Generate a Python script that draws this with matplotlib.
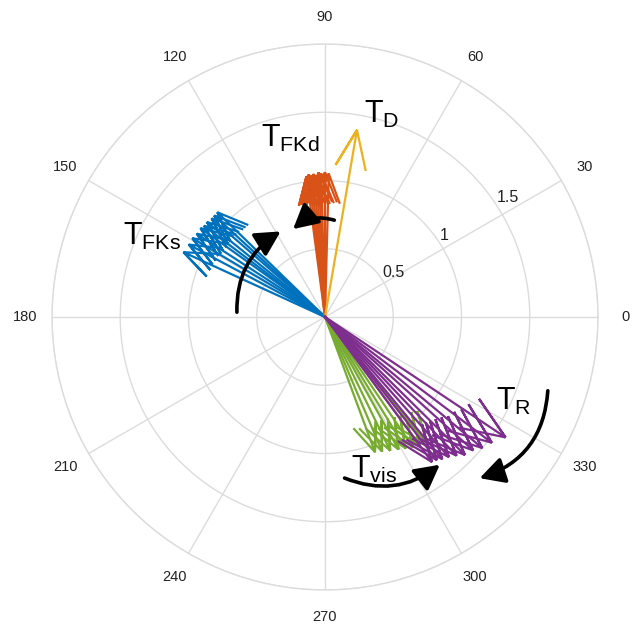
import numpy as np
import matplotlib
matplotlib.use("Agg")
import matplotlib.pyplot as plt
from matplotlib.patches import FancyArrowPatch

plt.rcParams['font.family'] = ['Liberation Sans', 'DejaVu Sans']

# ---- data: vector angles (deg) and magnitudes ----
fks_ang = [135.8, 137.5, 139.0, 141.2, 143.0, 144.5, 147.0, 149.3, 152.0, 155.4]
fks_mag = [1.10, 1.10, 1.10, 1.11, 1.11, 1.12, 1.12, 1.13, 1.13, 1.14]
fkd_ang = [88.5, 90.0, 91.5, 92.5, 93.5, 94.5, 95.5, 96.5, 97.5]
fkd_mag = [1.05, 1.06, 1.05, 1.06, 1.04, 1.05, 1.04, 1.05, 1.04]
d_ang = [80.3]
d_mag = [1.39]
r_ang = [-33.7, -37.0, -39.8, -42.0, -44.6, -46.5, -48.5, -50.5, -52.0, -53.6]
r_mag = [1.59, 1.53, 1.50, 1.46, 1.44, 1.40, 1.37, 1.35, 1.33, 1.32]
vis_ang = [-69.7, -67.0, -64.0, -61.0, -58.5, -56.0, -53.5, -51.2]
vis_mag = [1.055, 1.07, 1.09, 1.11, 1.13, 1.15, 1.17, 1.20]

series = [
    (fks_ang, fks_mag, '#0072BD'),
    (fkd_ang, fkd_mag, '#D95319'),
    (d_ang, d_mag, '#EDB120'),
    (vis_ang, vis_mag, '#77AC30'),
    (r_ang, r_mag, '#7E2F8E'),
]

theta_ticks = list(range(0, 360, 30))
theta_labels = [str(t) for t in theta_ticks]
r_ticks = [0.5, 1.0, 1.5, 2.0]
r_labels = ['0.5', '1', '1.5', '']

W, H = 636, 626
fig = plt.figure(figsize=(W / 100, H / 100), dpi=100)
cx, cy, R = 325, 317, 273
pos = [(cx - R) / W, (H - cy - R) / H, 2 * R / W, 2 * R / H]
ax = fig.add_axes(pos, projection='polar')
grid_c = '#dcdcdc'

# compass-style arrows
arrow_shape = np.array([0, 1, 0.8 + 0.08j, 1, 0.8 - 0.08j])
for angs, mags, col in series:
    for a, m in zip(angs, mags):
        z = arrow_shape * m * np.exp(1j * np.deg2rad(a))
        th = np.angle(z)
        th[0] = np.deg2rad(a)
        ax.plot(th, np.abs(z), color=col, lw=1.6, solid_joinstyle='miter', zorder=3)

ax.set_ylim(0, 2)
ax.set_xticks(np.deg2rad(theta_ticks))
ax.set_xticklabels(theta_labels, fontsize=10.5, color='#222222')
ax.set_yticks(r_ticks)
ax.set_yticklabels(r_labels, fontsize=11.5, color='#222222')
ax.set_rlabel_position(33)
ax.tick_params(axis='x', pad=9)
ax.grid(True, color=grid_c, lw=1.0)
ax.spines['polar'].set_color(grid_c)
ax.spines['polar'].set_linewidth(1.0)

# overlay Cartesian axes for annotations
ov = fig.add_axes(pos, frameon=False)
ov.set_xlim(-2, 2)
ov.set_ylim(-2, 2)
ov.axis('off')

def px(x, y):
    return ((x - cx) / (R / 2), (cy - y) / (R / 2))

arrows = [
    ((237, 315), (283, 230), -0.3),
    ((337, 221), (291, 231), 0.3),
    ((342, 477), (442, 463), 0.3),
    ((548, 388), (477, 479), -0.35),
]
for s, e, rad in arrows:
    p = FancyArrowPatch(px(*s), px(*e), connectionstyle=f'arc3,rad={rad}',
                        arrowstyle='-|>,head_length=0.75,head_width=0.4',
                        mutation_scale=20, lw=2.6, color='black', zorder=5)
    ov.add_patch(p)

labels = [
    (r'$\mathregular{T_{FKs}}$', (123, 221)),
    (r'$\mathregular{T_{FKd}}$', (261, 123)),
    (r'$\mathregular{T_{D}}$', (364, 99)),
    (r'$\mathregular{T_{R}}$', (496, 386)),
    (r'$\mathregular{T_{vis}}$', (351, 454)),
]
for txt, (x, y) in labels:
    ov.text(*px(x, y), txt, fontsize=22, ha='left', va='top', color='black')

fig.savefig('out.png', dpi=100, facecolor='white')
